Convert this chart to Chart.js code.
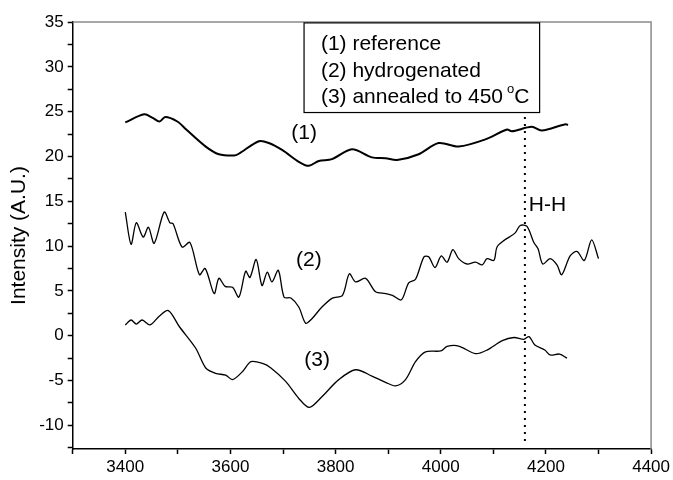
<!DOCTYPE html>
<html>
<head>
<meta charset="utf-8">
<script src="https://cdn.jsdelivr.net/npm/chart.js@4.4.1/dist/chart.umd.min.js"></script>
<style>
  html, body { margin: 0; padding: 0; background: #fff; }
</style>
</head>
<body>
<canvas id="spectra" width="673" height="480"></canvas>
<script>
// (1) reference
const refX = [3400, 3436, 3452, 3465, 3476, 3499, 3516, 3553, 3578, 3607, 3616, 3654, 3673, 3699, 3730, 3749, 3768, 3793, 3831, 3869, 3895, 3917, 3958, 3996, 4034, 4085, 4126, 4135, 4173, 4192, 4237, 4242];
const refY = [23.8, 24.7, 24.3, 23.9, 24.4, 23.9, 23.0, 21.1, 20.25, 20.1, 20.3, 21.7, 21.5, 20.7, 19.4, 18.95, 19.5, 19.7, 20.8, 19.9, 19.8, 19.6, 20.25, 21.5, 21.1, 21.9, 23.0, 22.8, 23.3, 22.9, 23.6, 23.5];

// (2) hydrogenated
const hydX = [3400, 3411, 3421, 3434, 3444, 3455, 3474, 3485, 3491, 3508, 3523, 3541, 3552, 3569, 3578, 3590, 3604, 3616, 3629, 3637, 3649, 3660, 3670, 3679, 3691, 3702, 3715, 3730, 3743, 3755, 3774, 3794, 3813, 3826, 3838, 3857, 3876, 3895, 3908, 3925, 3939, 3952, 3968, 3977, 3989, 4001, 4012, 4023, 4034, 4050, 4066, 4079, 4088, 4101, 4107, 4122, 4130, 4142, 4151, 4164, 4177, 4185, 4194, 4208, 4221, 4230, 4246, 4259, 4273, 4287, 4300];
const hydY = [13.8, 10.2, 12.6, 11.0, 12.1, 10.3, 13.8, 12.6, 12.5, 9.9, 10.4, 6.8, 7.5, 4.7, 6.4, 5.5, 5.4, 4.3, 7.2, 6.5, 8.5, 5.6, 7.1, 6.0, 7.3, 4.3, 4.2, 3.2, 1.4, 1.9, 3.2, 4.2, 4.5, 6.9, 6.0, 6.4, 4.9, 4.7, 4.5, 4.0, 5.9, 6.3, 8.8, 8.8, 7.6, 8.9, 8.2, 9.6, 8.6, 8.0, 8.2, 7.9, 8.6, 8.4, 9.9, 10.7, 11.0, 11.5, 12.3, 12.2, 10.4, 9.7, 8.0, 8.6, 7.9, 6.8, 8.9, 9.4, 8.4, 10.7, 8.6];

// (3) annealed to 450 C
const annX = [3400, 3411, 3421, 3432, 3447, 3465, 3482, 3503, 3534, 3553, 3572, 3591, 3604, 3623, 3639, 3661, 3677, 3705, 3730, 3750, 3774, 3806, 3838, 3869, 3895, 3914, 3933, 3952, 3971, 4000, 4012, 4034, 4066, 4088, 4117, 4139, 4158, 4168, 4179, 4198, 4208, 4226, 4240];
const annY = [1.2, 1.75, 1.3, 1.75, 1.2, 2.2, 2.8, 1.0, -1.4, -3.6, -4.2, -4.4, -4.9, -4.0, -2.9, -3.1, -3.6, -5.1, -7.0, -8.0, -6.8, -4.9, -3.8, -4.5, -5.2, -5.6, -4.9, -2.9, -1.8, -1.7, -1.2, -1.15, -2.0, -1.6, -0.55, -0.2, -0.4, -0.1, -1.05, -1.6, -2.15, -2.05, -2.5];

// H-H marker
const hhX = [4160, 4160];
const hhY = [24.4, -12.2];

const legendLines = ["(1) reference", "(2) hydrogenated", "(3) annealed to 450"];
const curveLabels = [
    { text: "(1)", x: 3740, y: 22.6 },
    { text: "(2)", x: 3749, y: 8.4 },
    { text: "(3)", x: 3765, y: -2.7 },
    { text: "H-H", x: 4203, y: 14.6 }
];

const FONT = "'Liberation Sans', Arial, sans-serif";

function pts(xs, ys) {
    return xs.map(function (x, i) { return { x: x, y: ys[i] }; });
}

const notes = {
    id: "notes",
    afterDatasetsDraw: function (chart) {
        const c = chart.ctx;
        const xs = chart.scales.x;
        const ys = chart.scales.y;
        const area = chart.chartArea;

        // grey top and right frame
        c.save();
        c.strokeStyle = "#8a8a8a";
        c.lineWidth = 1.5;
        c.beginPath();
        c.moveTo(area.left, area.top);
        c.lineTo(area.right, area.top);
        c.lineTo(area.right, area.bottom);
        c.stroke();

        // legend box
        const bx = xs.getPixelForValue(3740);
        const bx2 = xs.getPixelForValue(4188);
        const by = ys.getPixelForValue(34.9);
        const by2 = ys.getPixelForValue(24.9);
        c.fillStyle = "#fff";
        c.fillRect(bx, by, bx2 - bx, by2 - by);
        c.strokeStyle = "#000";
        c.lineWidth = 1.2;
        c.strokeRect(bx, by, bx2 - bx, by2 - by);

        c.fillStyle = "#000";
        c.font = "21px " + FONT;
        c.textBaseline = "middle";
        c.textAlign = "left";
        const tx = xs.getPixelForValue(3772);
        const rows = [44.3, 71, 97.3];
        legendLines.forEach(function (t, i) {
            c.fillText(t, tx, rows[i]);
        });
        // degree sign on the last row
        let w = c.measureText(legendLines[2]).width + 4;
        c.font = "13px " + FONT;
        c.fillText("o", tx + w, rows[2] - 8);
        w += c.measureText("o").width;
        c.font = "21px " + FONT;
        c.fillText("C", tx + w, rows[2]);

        // curve labels
        c.textAlign = "center";
        curveLabels.forEach(function (l) {
            c.fillText(l.text, xs.getPixelForValue(l.x), ys.getPixelForValue(l.y));
        });
        c.restore();
    }
};

new Chart(document.getElementById("spectra"), {
    type: "line",
    data: {
        datasets: [
            { label: "(1)", data: pts(refX, refY), borderColor: "#000", borderWidth: 2, pointRadius: 0, tension: 0.3 },
            { label: "(2)", data: pts(hydX, hydY), borderColor: "#000", borderWidth: 1.3, pointRadius: 0, tension: 0.3 },
            { label: "(3)", data: pts(annX, annY), borderColor: "#000", borderWidth: 1.3, pointRadius: 0, tension: 0.3 },
            { label: "H-H", data: pts(hhX, hhY), borderColor: "#000", borderWidth: 2, borderDash: [2, 5], pointRadius: 0 }
        ]
    },
    options: {
        responsive: false,
        animation: false,
        devicePixelRatio: 1,
        layout: { padding: { top: 22, right: 20, left: 0, bottom: 0 } },
        plugins: { legend: { display: false }, tooltip: { enabled: false } },
        scales: {
            x: {
                type: "linear",
                min: 3300,
                max: 4400,
                afterFit: function (s) { s.height = 31; },
                border: { color: "#000", width: 1.5 },
                grid: { drawOnChartArea: false, tickLength: 5, color: "#000", tickWidth: 1.5 },
                ticks: {
                    stepSize: 100,
                    autoSkip: false,
                    maxRotation: 0,
                    padding: 3,
                    color: "#000",
                    font: { family: FONT, size: 17 },
                    callback: function (v) { return v % 200 === 0 ? v : ""; }
                }
            },
            y: {
                min: -12.64,
                max: 35,
                afterFit: function (s) { s.width = 72.7; },
                border: { color: "#000", width: 1.5 },
                grid: { drawOnChartArea: false, tickLength: 5, color: "#000", tickWidth: 1.5 },
                title: {
                    display: true,
                    text: "Intensity (A.U.)",
                    color: "#000",
                    font: { family: FONT, size: 21 },
                    padding: { top: 7, bottom: 0 }
                },
                ticks: {
                    stepSize: 2.5,
                    autoSkip: false,
                    includeBounds: false,
                    padding: 4,
                    color: "#000",
                    font: { family: FONT, size: 17 },
                    callback: function (v) { return v % 5 === 0 ? v : ""; }
                }
            }
        }
    },
    plugins: [notes]
});
</script>
</body>
</html>
